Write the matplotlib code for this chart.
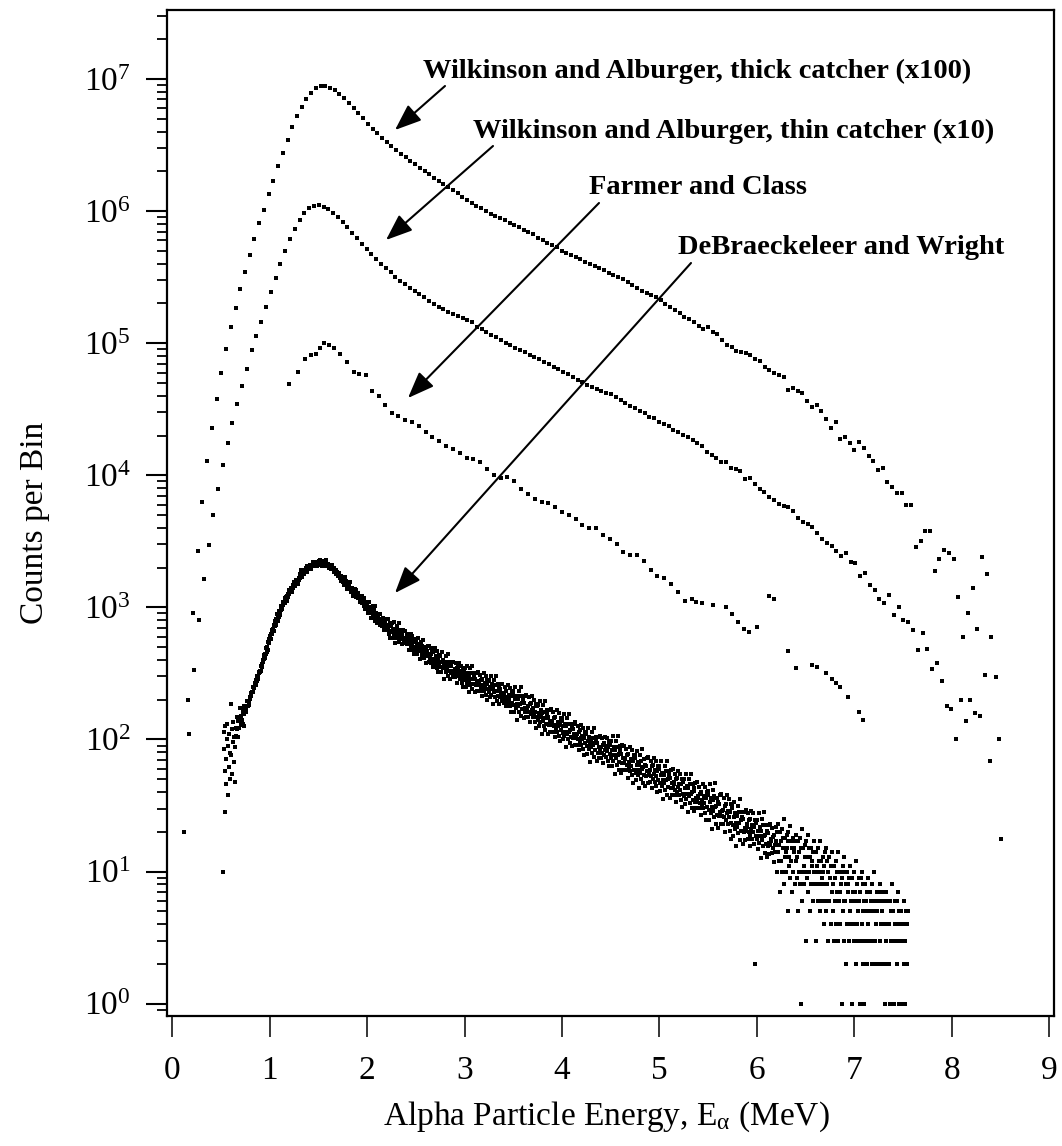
import numpy as np
import matplotlib
matplotlib.use("Agg")
import matplotlib.pyplot as plt
from matplotlib.ticker import FixedLocator, NullFormatter, LogFormatterSciNotation, NullLocator

plt.rcParams['font.family'] = ['Liberation Serif', 'DejaVu Serif']
plt.rcParams['mathtext.fontset'] = 'custom'
plt.rcParams['mathtext.rm'] = 'Liberation Serif'
plt.rcParams['mathtext.it'] = 'Liberation Serif:italic'
plt.rcParams['mathtext.bf'] = 'Liberation Serif:bold'

nan = np.nan
# ---------------- data ----------------
# Wilkinson and Alburger, thick catcher (x100): first bin / bin width (MeV), log10(counts)
thick_start, thick_width = 0.115, 0.0485
thick_log10 = [
    1.30, 2.297, 2.955, 3.43, 3.798, 4.106, 4.358, 4.58, 4.777, 4.954,
    5.119, 5.265, 5.408, 5.539, 5.668, 5.787, 5.908, 6.006, 6.126, 6.228,
    6.341, 6.438, 6.538, 6.634, 6.72, 6.79, 6.851, 6.896, 6.93, 6.947,
    6.947, 6.934, 6.917, 6.889, 6.856, 6.82, 6.778, 6.74, 6.702, 6.662,
    6.624, 6.589, 6.553, 6.52, 6.493, 6.463, 6.435, 6.407, 6.379, 6.354,
    6.33, 6.30, 6.279, 6.253, 6.23, 6.205, 6.182, 6.16, 6.139, 6.11,
    6.084, 6.064, 6.04, 6.02, 6.0, 5.979, 5.962, 5.948, 5.93, 5.91,
    5.892, 5.876, 5.86, 5.84, 5.826, 5.80, 5.783, 5.758, 5.742, 5.726,
    5.70, 5.68, 5.665, 5.652, 5.634, 5.617, 5.60, 5.585, 5.57, 5.552,
    5.533, 5.52, 5.50, 5.483, 5.465, 5.44, 5.418, 5.395, 5.378, 5.362,
    5.348, 5.324, 5.30, 5.276, 5.252, 5.227, 5.20, 5.18, 5.16, 5.13,
    5.105, 5.125, 5.087, 5.067, 5.024, 4.99, 4.969, 4.943, 4.93, 4.929,
    4.911, 4.878, 4.867, 4.818, 4.797, 4.772, 4.76, 4.742, 4.646, 4.66,
    4.64, 4.625, 4.565, 4.515, 4.532, 4.487, 4.424, 4.36, 4.40, 4.275,
    4.292, 4.242, 4.194, 4.25, 4.204, 4.148, 4.106, 4.038, 4.053, 3.95,
    3.914, 3.864, 3.864, 3.773, 3.778, 3.46, 3.505, 3.58, 3.58, 3.278,
    3.364, 3.435, 3.414, 3.364, 3.08, 2.776, 2.955, 3.145, 2.84, 3.38,
    3.253, 2.776, 2.47, 1.25,
]

# Wilkinson and Alburger, thin catcher (x10)
thin_start, thin_width = 0.174, 0.0492
thin_log10 = [
    2.04, 2.528, 2.905, 3.213, 3.472, 3.70, 3.897, 4.079, 4.242, 4.398,
    4.54, 4.674, 4.805, 4.952, 5.054, 5.163, 5.272, 5.385, 5.49, 5.60,
    5.697, 5.786, 5.862, 5.933, 5.983, 6.02, 6.041, 6.046, 6.033, 6.016,
    5.988, 5.958, 5.92, 5.877, 5.836, 5.794, 5.751, 5.713, 5.673, 5.635,
    5.60, 5.567, 5.537, 5.503, 5.473, 5.448, 5.42, 5.395, 5.37, 5.347,
    5.322, 5.30, 5.276, 5.256, 5.239, 5.221, 5.206,
    5.19, 5.173, 5.158, 5.125, 5.107, 5.085, 5.065, 5.047, 5.028, 5.005,
    4.985, 4.967, 4.948, 4.93, 4.912, 4.895, 4.877, 4.86, 4.84, 4.822,
    4.805, 4.784, 4.766, 4.745, 4.725, 4.705, 4.682, 4.666, 4.651, 4.638,
    4.625, 4.612, 4.592, 4.57, 4.55, 4.525, 4.51, 4.488, 4.47, 4.445,
    4.43, 4.405, 4.39, 4.37, 4.345, 4.33, 4.305, 4.29, 4.265, 4.245,
    4.224, 4.179, 4.154, 4.133, 4.103, 4.10, 4.053, 4.045, 4.035, 3.972,
    3.98, 3.936, 3.90, 3.876, 3.833, 3.813, 3.78, 3.768, 3.758, 3.73,
    3.677, 3.65, 3.63, 3.61, 3.56, 3.52, 3.485, 3.467, 3.425, 3.39,
    3.41, 3.346, 3.334, 3.238, 3.26, 3.17, 3.13, 3.064, 3.03, 3.094,
    2.94, 3.003, 2.905, 2.89, 2.826, 2.68, 2.806, 2.687, 2.53, 2.577,
    2.445, 2.25, 2.23, 2.0, 2.30, 2.14, 2.30, 2.20, 2.18, 2.49,
    1.84, nan, 2.0,
]

# Farmer and Class
farmer_energy = [
    1.20, 1.29, 1.36, 1.42, 1.47, 1.52, 1.56, 1.61, 1.66, 1.72,
    1.79, 1.86, 1.92, 1.99, 2.05, 2.12, 2.18, 2.25, 2.32, 2.39,
    2.46, 2.53, 2.60, 2.67, 2.74, 2.81, 2.88, 2.95, 3.02, 3.09,
    3.16, 3.23, 3.30, 3.37, 3.44, 3.51, 3.58, 3.65, 3.72, 3.79,
    3.86, 3.93, 4.00, 4.07, 4.14, 4.21, 4.28, 4.35, 4.42, 4.49,
    4.56, 4.63, 4.70, 4.77, 4.84, 4.91, 4.98, 5.05, 5.12, 5.19,
    5.26, 5.33, 5.38, 5.44, 5.55, 5.68, 5.745, 5.81, 5.87, 5.92,
    6.005, 6.13, 6.18, 6.32, 6.405, 6.57, 6.62, 6.71, 6.77, 6.81,
    6.85, 6.94, 7.05, 7.09,
]
farmer_log10 = [
    4.69, 4.78, 4.88, 4.91, 4.92, 4.96, 5.00, 4.99, 4.96, 4.92,
    4.86, 4.78, 4.77, 4.76, 4.64, 4.60, 4.53, 4.47, 4.45, 4.42,
    4.40, 4.37, 4.33, 4.29, 4.26, 4.22, 4.20, 4.17, 4.13, 4.12,
    4.10, 4.05, 4.00, 3.98, 3.99, 3.96, 3.90, 3.86, 3.82, 3.80,
    3.79, 3.76, 3.72, 3.70, 3.67, 3.62, 3.60, 3.60, 3.55, 3.52,
    3.48, 3.42, 3.40, 3.40, 3.35, 3.28, 3.24, 3.22, 3.18, 3.12,
    3.05, 3.06, 3.04, 3.036, 3.016, 3.0, 2.948, 2.89, 2.84, 2.81,
    2.85, 3.09, 3.066, 2.67, 2.54, 2.567, 2.55, 2.50, 2.46, 2.43,
    2.40, 2.32, 2.21, 2.15,
]

# DeBraeckeleer and Wright: 0.005 MeV bins from 0.50 MeV (log10 counts) ...
deb_start, deb_width = 0.50, 0.005
deb_log10 = [
    nan, nan, nan, nan, 1.00, 2.06, 1.93, 1.76, 2.10, 1.45,
    1.85, 1.66, 2.00, 2.12, 1.58, 1.95, 1.79, 2.04, 1.70, 1.90,
    2.27, 1.88, 2.08, 1.74, 1.98, 2.13, 1.83, 2.02, 1.94, 1.68,
    2.09, 2.03, 2.17, 2.08, 2.14, 2.02, 2.17, 2.09, 2.14, 2.24,
    2.11, 2.18, 2.15, 2.24, 2.12, 2.21, 2.10, 2.25, 2.19, 2.25,
    2.24, 2.22, 2.21, 2.25, 2.29, 2.25, 2.29, 2.29, 2.26, 2.32,
    2.31, 2.35, 2.33, 2.36, 2.36, 2.40, 2.36, 2.39, 2.39, 2.43,
    2.43, 2.41, 2.45, 2.44, 2.48, 2.47, 2.46, 2.51, 2.50, 2.51,
    2.52, 2.52, 2.56, 2.55, 2.57, 2.55, 2.60, 2.59, 2.61, 2.64,
    2.62, 2.65, 2.65, 2.69, 2.66, 2.70, 2.68, 2.74, 2.73, 2.76,
    2.78, 2.76, 2.76, 2.80, 2.83, 2.80, 2.84, 2.83, 2.82, 2.87,
    2.86, 2.90, 2.87, 2.91, 2.91, 2.95, 2.90, 2.94, 2.93, 2.97,
    2.97, 2.94, 2.98, 2.98, 3.01, 3.00, 2.99, 3.04, 3.02, 3.03,
    3.04, 3.03, 3.07, 3.06, 3.08, 3.05, 3.09, 3.08, 3.10, 3.13,
    3.10, 3.12, 3.12, 3.15, 3.12, 3.15, 3.12, 3.17, 3.15, 3.18,
    3.19, 3.17, 3.16, 3.19, 3.21, 3.18, 3.21, 3.20, 3.18, 3.22,
    3.21, 3.25, 3.22, 3.24, 3.24, 3.28, 3.23, 3.26, 3.25, 3.28,
    3.28, 3.25, 3.28, 3.27, 3.30, 3.28, 3.27, 3.31, 3.29, 3.30,
    3.30, 3.29, 3.32, 3.30, 3.31, 3.29, 3.32, 3.31, 3.32, 3.34,
    3.31, 3.33, 3.32, 3.34, 3.31, 3.33, 3.31, 3.34, 3.33, 3.34,
    3.35, 3.33, 3.32, 3.34, 3.36, 3.33, 3.34, 3.33, 3.31, 3.34,
    3.33, 3.35, 3.32, 3.34, 3.33, 3.36, 3.31, 3.33, 3.32, 3.33,
    3.33, 3.30, 3.32, 3.30, 3.32, 3.30, 3.29, 3.32, 3.29, 3.29,
    3.29, 3.27, 3.30, 3.27, 3.28, 3.25, 3.28, 3.25, 3.26, 3.27,
    3.24, 3.25, 3.24, 3.26, 3.22, 3.24, 3.20, 3.24, 3.21, 3.23,
    3.23, 3.19, 3.17, 3.20, 3.23, 3.17, 3.20, 3.18, 3.14, 3.18,
    3.16, 3.19, 3.14, 3.17, 3.15, 3.19, 3.12, 3.14, 3.13, 3.15,
    3.14, 3.09, 3.13, 3.11, 3.14, 3.11, 3.08, 3.13, 3.09, 3.09,
    3.09, 3.07, 3.11, 3.07, 3.09, 3.04, 3.08, 3.05, 3.06, 3.09,
    3.03, 3.05, 3.04, 3.07, 3.01, 3.04, 2.99, 3.04, 3.01, 3.03,
    3.04, 2.99, 2.96, 3.00, 3.04, 2.97, 3.00, 2.98, 2.92, 2.99,
    2.96, 3.01, 2.93, 2.98, 2.95, 3.01, 2.90, 2.94, 2.92, 2.96,
    2.95, 2.88, 2.94, 2.90, 2.95, 2.91, 2.87, 2.95, 2.89, 2.90,
    2.90, 2.86, 2.92, 2.87, 2.90, 2.83, 2.90, 2.86, 2.87, 2.91,
    2.83, 2.87, 2.85, 2.91, 2.80, 2.86, 2.77, 2.88, 2.82, 2.87,
    2.88, 2.81, 2.77, 2.84, 2.89, 2.79, 2.84, 2.81, 2.73, 2.83,
    2.79, 2.86, 2.77, 2.83, 2.80, 2.88, 2.74, 2.80, 2.77, 2.83,
    2.81, 2.72, 2.80, 2.76, 2.83, 2.77, 2.73, 2.82, 2.75, 2.76,
    2.77, 2.72, 2.80, 2.74, 2.77, 2.68, 2.78, 2.72, 2.74, 2.80,
    2.70, 2.75, 2.72, 2.78, 2.68, 2.74, 2.65, 2.76, 2.70, 2.74,
    2.75, 2.68, 2.65, 2.71, 2.77, 2.67, 2.72, 2.69, 2.61, 2.70,
    2.67, 2.74, 2.64, 2.71, 2.67, 2.75, 2.62, 2.68, 2.64, 2.70,
    2.69, 2.58, 2.67, 2.63, 2.71, 2.64, 2.59, 2.71, 2.62, 2.64,
    2.65, 2.58, 2.69, 2.61, 2.66, 2.55, 2.66, 2.59, 2.61, 2.69,
    2.57, 2.63, 2.60, 2.67, 2.54, 2.60, 2.51, 2.64, 2.57, 2.63,
    2.64, 2.55, 2.51, 2.59, 2.66, 2.54, 2.60, 2.56, 2.46, 2.58,
    2.54, 2.63, 2.51, 2.59, 2.55, 2.65, 2.48, 2.56, 2.52, 2.59,
    2.57, 2.46, 2.56, 2.50, 2.59, 2.52, 2.47, 2.59, 2.50, 2.52,
    2.53, 2.47, 2.58, 2.51, 2.54, 2.43, 2.55, 2.48, 2.50, 2.58,
    2.46, 2.52, 2.49, 2.56, 2.43, 2.49, 2.40, 2.54, 2.46, 2.52,
    2.54, 2.45, 2.40, 2.49, 2.56, 2.43, 2.50, 2.46, 2.36, 2.49,
    2.44, 2.54, 2.41, 2.50, 2.46, 2.56, 2.38, 2.46, 2.42, 2.50,
    2.48, 2.36, 2.46, 2.41, 2.50, 2.43, 2.37, 2.51, 2.41, 2.43,
    2.44, 2.37, 2.49, 2.40, 2.45, 2.33, 2.46, 2.38, 2.41, 2.50,
    2.37, 2.43, 2.40, 2.48, 2.34, 2.42, 2.30, 2.45, 2.38, 2.44,
    2.45, 2.36, 2.32, 2.40, 2.48, 2.34, 2.42, 2.38, 2.27, 2.40,
    2.36, 2.45, 2.32, 2.41, 2.37, 2.48, 2.29, 2.37, 2.33, 2.42,
    2.39, 2.27, 2.38, 2.32, 2.42, 2.35, 2.29, 2.42, 2.32, 2.34,
    2.35, 2.28, 2.40, 2.31, 2.37, 2.25, 2.37, 2.30, 2.32, 2.41,
    2.28, 2.34, 2.31, 2.39, 2.25, 2.33, 2.21, 2.36, 2.28, 2.34,
    2.37, 2.26, 2.21, 2.31, 2.40, 2.24, 2.33, 2.27, 2.15, 2.31,
    2.25, 2.37, 2.21, 2.33, 2.27, 2.40, 2.18, 2.28, 2.23, 2.33,
    2.30, 2.16, 2.28, 2.21, 2.33, 2.24, 2.17, 2.34, 2.22, 2.24,
    2.25, 2.17, 2.32, 2.21, 2.27, 2.13, 2.28, 2.19, 2.22, 2.33,
    2.17, 2.24, 2.20, 2.30, 2.13, 2.21, 2.09, 2.27, 2.17, 2.25,
    2.26, 2.15, 2.10, 2.20, 2.29, 2.13, 2.22, 2.17, 2.04, 2.20,
    2.14, 2.26, 2.10, 2.21, 2.16, 2.29, 2.07, 2.16, 2.12, 2.22,
    2.19, 2.04, 2.17, 2.11, 2.22, 2.14, 2.06, 2.23, 2.11, 2.13,
    2.14, 2.06, 2.21, 2.10, 2.16, 2.02, 2.17, 2.08, 2.11, 2.22,
    2.06, 2.13, 2.10, 2.20, 2.03, 2.11, 1.99, 2.16, 2.07, 2.14,
    2.16, 2.05, 2.00, 2.10, 2.19, 2.03, 2.12, 2.06, 1.94, 2.10,
    2.04, 2.16, 2.00, 2.12, 2.06, 2.19, 1.97, 2.07, 2.02, 2.12,
    2.09, 1.95, 2.08, 2.01, 2.12, 2.04, 1.96, 2.13, 2.01, 2.03,
    2.04, 1.96, 2.10, 2.00, 2.06, 1.92, 2.07, 1.98, 2.01, 2.11,
    1.96, 2.03, 2.00, 2.09, 1.93, 2.01, 1.88, 2.06, 1.97, 2.04,
    2.06, 1.95, 1.89, 1.99, 2.09, 1.93, 2.02, 1.96, 1.83, 1.99,
    1.94, 2.06, 1.90, 2.01, 1.96, 2.09, 1.87, 1.97, 1.92, 2.02,
    1.99, 1.84, 1.97, 1.90, 2.02, 1.94, 1.86, 2.03, 1.91, 1.93,
    1.94, 1.86, 2.01, 1.90, 1.96, 1.82, 1.97, 1.88, 1.92, 2.02,
    1.87, 1.95, 1.91, 2.01, 1.84, 1.94, 1.80, 1.98, 1.89, 1.96,
    1.99, 1.86, 1.80, 1.92, 2.03, 1.84, 1.94, 1.88, 1.74, 1.92,
    1.86, 1.99, 1.81, 1.94, 1.88, 2.03, 1.77, 1.89, 1.83, 1.95,
    1.92, 1.75, 1.89, 1.82, 1.96, 1.86, 1.77, 1.95, 1.82, 1.85,
    1.86, 1.77, 1.93, 1.81, 1.88, 1.71, 1.89, 1.78, 1.83, 1.94,
    1.76, 1.85, 1.80, 1.92, 1.73, 1.84, 1.67, 1.88, 1.77, 1.86,
    1.88, 1.75, 1.69, 1.81, 1.91, 1.73, 1.83, 1.77, 1.63, 1.81,
    1.75, 1.88, 1.70, 1.84, 1.78, 1.93, 1.67, 1.79, 1.73, 1.85,
    1.81, 1.65, 1.80, 1.72, 1.86, 1.76, 1.67, 1.87, 1.73, 1.76,
    1.77, 1.68, 1.84, 1.72, 1.80, 1.63, 1.81, 1.70, 1.74, 1.86,
    1.68, 1.77, 1.72, 1.84, 1.65, 1.76, 1.60, 1.80, 1.69, 1.78,
    1.80, 1.67, 1.61, 1.73, 1.84, 1.65, 1.75, 1.69, 1.55, 1.73,
    1.67, 1.80, 1.62, 1.76, 1.69, 1.84, 1.58, 1.70, 1.64, 1.76,
    1.73, 1.56, 1.71, 1.63, 1.77, 1.67, 1.58, 1.78, 1.63, 1.66,
    1.68, 1.58, 1.74, 1.62, 1.70, 1.53, 1.71, 1.60, 1.64, 1.76,
    1.58, 1.66, 1.62, 1.74, 1.54, 1.66, 1.49, 1.70, 1.59, 1.68,
    1.70, 1.57, 1.51, 1.63, 1.74, 1.55, 1.65, 1.59, 1.45, 1.63,
    1.57, 1.70, 1.52, 1.66, 1.59, 1.74, 1.48, 1.60, 1.54, 1.66,
    1.63, 1.46, 1.61, 1.53, 1.67, 1.56, 1.48, 1.68, 1.53, 1.56,
    1.57, 1.48, 1.64, 1.52, 1.59, 1.43, 1.60, 1.50, 1.54, 1.66,
    1.48, 1.57, 1.52, 1.64, 1.44, 1.56, 1.39, 1.60, 1.49, 1.58,
    1.61, 1.47, 1.39, 1.53, 1.66, 1.44, 1.56, 1.49, 1.32, 1.54,
    1.46, 1.62, 1.41, 1.57, 1.49, 1.67, 1.36, 1.50, 1.43, 1.56,
    1.53, 1.33, 1.51, 1.42, 1.58, 1.45, 1.36, 1.59, 1.42, 1.46,
    1.47, 1.36, 1.56, 1.41, 1.50, 1.30, 1.51, 1.39, 1.44, 1.58,
    1.36, 1.46, 1.41, 1.55, 1.31, 1.45, 1.25, 1.51, 1.37, 1.48,
    1.50, 1.35, 1.27, 1.41, 1.53, 1.32, 1.44, 1.37, 1.19, 1.42,
    1.34, 1.50, 1.29, 1.45, 1.37, 1.55, 1.24, 1.39, 1.31, 1.45,
    1.41, 1.21, 1.40, 1.30, 1.45, 1.33, 1.24, 1.47, 1.31, 1.34,
    1.36, 1.25, 1.44, 1.30, 1.39, 1.19, 1.40, 1.27, 1.32, 1.46,
    1.25, 1.35, 1.30, 1.44, 1.21, 1.34, 0.30, 1.39, 1.27, 1.37,
    1.39, 1.25, 1.17, 1.31, 1.44, 1.22, 1.34, 1.27, 1.10, 1.31,
    1.24, 1.40, 1.19, 1.35, 1.27, 1.45, 1.14, 1.28, 1.21, 1.35,
    1.31, 1.11, 1.29, 1.19, 1.35, 1.22, 1.13, 1.36, 1.20, 1.23,
    1.25, 1.14, 1.33, 1.18, 1.26, 1.07, 1.28, 1.15, 1.20, 1.34,
]
# ... and the low-count tail as integer counts, 0.005 MeV bins from 6.20 MeV
tail_start = 6.20
deb_tail_counts = [
    17, 10, 20, 14, 23, 12, 16, 7, 20, 17,
    12, 21, 10, 15, 18, 8, 25, 13, 18, 14,
    10, 19, 15, 5, 17, 20, 11, 13, 22, 9,
    17, 12, 15, 7, 18, 10, 14, 15, 8, 17,
    12, 19, 9, 13, 5, 17, 14, 10, 18, 8,
    1, 15, 6, 21, 10, 15, 11, 8, 16, 13,
    3, 13, 17, 9, 10, 19, 7, 15, 10, 13,
    5, 15, 8, 11, 12, 6, 14, 10, 17, 8,
    10, 3, 14, 11, 8, 15, 6, 10, 12, 5,
    17, 8, 12, 9, 6, 13, 10, 4, 11, 14,
    6, 8, 15, 5, 12, 8, 10, 3, 13, 6,
    9, 9, 4, 11, 7, 14, 5, 8, 3, 11,
    9, 6, 12, 4, 7, 10, 3, 14, 6, 10,
    7, 4, 10, 8, 1, 9, 11, 5, 6, 13,
    3, 10, 6, 8, 2, 10, 4, 7, 8, 3,
    9, 5, 11, 4, 6, 1, 9, 7, 4, 10,
    3, 6, 7, 2, 12, 4, 8, 5, 3, 9,
    6, 1, 7, 9, 3, 4, 10, 2, 8, 5,
    6, 1, 8, 3, 5, 6, 2, 7, 4, 9,
    3, 5, 0, 7, 6, 3, 8, 2, 5, 6,
    2, 10, 3, 6, 4, 2, 7, 5, 0, 6,
    7, 2, 3, 8, 2, 6, 4, 5, 0, 7,
    2, 4, 4, 1, 6, 3, 7, 2, 4, 0,
    6, 4, 2, 6, 1, 3, 5, 1, 8, 3,
    5, 3, 1, 6, 4, 0, 4, 6, 2, 3,
    7, 1, 5, 3, 4, 0, 5, 1, 3, 4,
    1, 4, 2, 6, 1, 3, 0, 5, 4, 2, 5,
]

labels = [
    "Wilkinson and Alburger, thick catcher (x100)",
    "Wilkinson and Alburger, thin catcher (x10)",
    "Farmer and Class",
    "DeBraeckeleer and Wright",
]

x_ticks = [0, 1, 2, 3, 4, 5, 6, 7, 8, 9]
y_decades = [0, 1, 2, 3, 4, 5, 6, 7]

# ---------------- figure ----------------
W, H = 1062, 1146
fig = plt.figure(figsize=(W / 100, H / 100), dpi=100)
ax_l, ax_r, ax_t, ax_b = 166.7, 1054.0, 10.0, 1015.7
ax = fig.add_axes([ax_l / W, 1 - ax_b / H, (ax_r - ax_l) / W, (ax_b - ax_t) / H])

style = dict(ls='none', marker='s', ms=2.7, mew=0, color='black')

thick_y = 10 ** np.array(thick_log10)
thick_x = thick_start + thick_width * np.arange(len(thick_y))
ax.plot(thick_x, thick_y, **style)

thin_y = 10 ** np.array(thin_log10)
thin_x = thin_start + thin_width * np.arange(len(thin_y))
ax.plot(thin_x, thin_y, **style)

ax.plot(farmer_energy, 10 ** np.array(farmer_log10), **style)

deb_y = 10 ** np.array(deb_log10)
deb_x = deb_start + deb_width * np.arange(len(deb_y))
ax.plot(deb_x, deb_y, **style)

tail_y = np.array(deb_tail_counts, dtype=float)
tail_y[tail_y <= 0] = np.nan
tail_x = tail_start + deb_width * np.arange(len(tail_y))
ax.plot(tail_x, tail_y, **style)

ax.set_yscale('log')
y_lo, y_hi = 0.811, 3.33e7
ax.set_xlim(-0.0585, 9.051)
ax.set_ylim(y_lo, y_hi)

major_y = [10.0 ** k for k in y_decades]
minor_y = [m * 10.0 ** k for k in range(-1, 8) for m in range(2, 10)
           if y_lo <= m * 10.0 ** k <= y_hi]
ax.xaxis.set_major_locator(FixedLocator(x_ticks))
ax.xaxis.set_minor_locator(NullLocator())
ax.yaxis.set_major_locator(FixedLocator(major_y))
ax.yaxis.set_minor_locator(FixedLocator(minor_y))
ax.yaxis.set_minor_formatter(NullFormatter())
ax.yaxis.set_major_formatter(LogFormatterSciNotation())

for s in ax.spines.values():
    s.set_linewidth(1.6)
ax.tick_params(axis='y', which='major', direction='out', length=15, width=1.5,
               labelsize=24, pad=11)
ax.tick_params(axis='y', which='minor', direction='out', length=7.5, width=1.3)
ax.tick_params(axis='x', which='major', direction='out', length=15, width=1.1,
               labelsize=24, pad=14)

ax.set_xlabel("Alpha Particle Energy, E$_{\\mathrm{α}}$ (MeV)", fontsize=24)
ax.set_ylabel("Counts per Bin", fontsize=24)
ax.xaxis.set_label_coords(0.496, -0.1007)
ax.xaxis.label.set_va('center')
ax.yaxis.set_label_coords(-0.1484, 0.49)
ax.yaxis.label.set_va('center')

def frac(px, py):
    return ((px - ax_l) / (ax_r - ax_l), (ax_b - py) / (ax_b - ax_t))

text_pos = [(423, 71), (473, 131), (589, 188), (678, 247)]
arrow_tail = [(445, 86), (493, 146), (599, 203), (691, 263)]
arrow_tip = [(395, 130), (386, 240), (408, 398), (395, 593)]

for lab, tp, at, ah in zip(labels, text_pos, arrow_tail, arrow_tip):
    ax.text(*frac(*tp), lab, transform=ax.transAxes, ha='left', va='center',
            fontsize=20.5, fontweight='bold')
    ax.annotate('', xy=frac(*ah), xycoords='axes fraction',
                xytext=frac(*at), textcoords='axes fraction',
                arrowprops=dict(arrowstyle='-|>,head_length=0.9,head_width=0.35',
                                lw=1.5, color='black', mutation_scale=18,
                                shrinkA=0, shrinkB=0))

fig.savefig('out.png', dpi=100)
